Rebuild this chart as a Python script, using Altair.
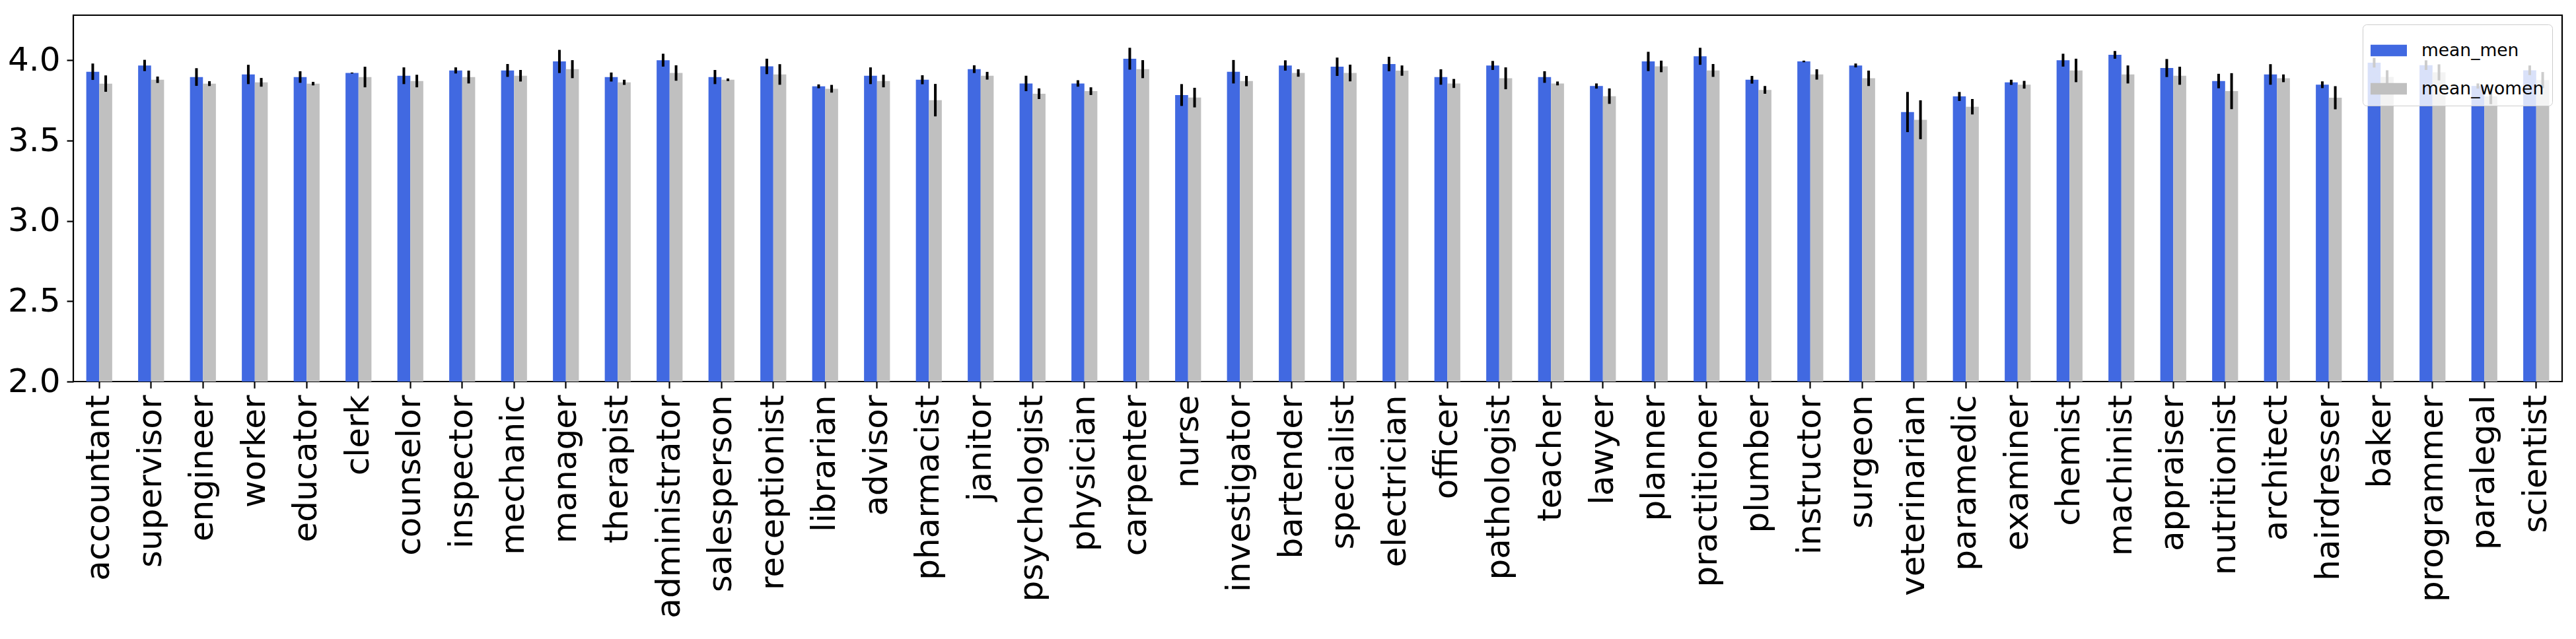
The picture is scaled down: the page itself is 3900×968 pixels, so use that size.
import altair as alt
import pandas as pd

occupations = [
    "accountant", "supervisor", "engineer", "worker", "educator", "clerk",
    "counselor", "inspector", "mechanic", "manager", "therapist", "administrator",
    "salesperson", "receptionist", "librarian", "advisor", "pharmacist", "janitor",
    "psychologist", "physician", "carpenter", "nurse", "investigator", "bartender",
    "specialist", "electrician", "officer", "pathologist", "teacher", "lawyer",
    "planner", "practitioner", "plumber", "instructor", "surgeon", "veterinarian",
    "paramedic", "examiner", "chemist", "machinist", "appraiser", "nutritionist",
    "architect", "hairdresser", "baker", "programmer", "paralegal", "scientist",
]

mean_men = [
    3.929, 3.968, 3.896, 3.912, 3.896, 3.921,
    3.904, 3.937, 3.937, 3.993, 3.896, 4.001,
    3.896, 3.962, 3.838, 3.904, 3.879, 3.945,
    3.856, 3.856, 4.010, 3.784, 3.929, 3.968,
    3.960, 3.977, 3.896, 3.968, 3.896, 3.840,
    3.993, 4.025, 3.879, 3.993, 3.968, 3.678,
    3.775, 3.863, 4.001, 4.034, 3.952, 3.871,
    3.912, 3.848, 3.985, 3.970, 3.840, 3.938,
]
err_men = [
    0.051, 0.035, 0.055, 0.060, 0.036, 0.003,
    0.052, 0.019, 0.040, 0.072, 0.028, 0.040,
    0.044, 0.048, 0.012, 0.052, 0.028, 0.024,
    0.048, 0.020, 0.068, 0.068, 0.073, 0.032,
    0.057, 0.045, 0.048, 0.028, 0.036, 0.016,
    0.060, 0.053, 0.024, 0.005, 0.012, 0.125,
    0.028, 0.016, 0.040, 0.024, 0.056, 0.045,
    0.064, 0.021, 0.030, 0.030, 0.016, 0.030,
]
mean_women = [
    3.855, 3.879, 3.855, 3.863, 3.855, 3.896,
    3.871, 3.896, 3.904, 3.945, 3.863, 3.921,
    3.879, 3.912, 3.823, 3.871, 3.752, 3.904,
    3.792, 3.808, 3.945, 3.768, 3.871, 3.921,
    3.921, 3.936, 3.856, 3.888, 3.856, 3.777,
    3.962, 3.937, 3.816, 3.912, 3.888, 3.630,
    3.711, 3.848, 3.937, 3.912, 3.904, 3.808,
    3.888, 3.767, 3.897, 3.925, 3.775, 3.877,
]
err_women = [
    0.051, 0.020, 0.015, 0.027, 0.011, 0.064,
    0.039, 0.040, 0.036, 0.056, 0.016, 0.048,
    0.008, 0.064, 0.024, 0.039, 0.101, 0.024,
    0.033, 0.024, 0.056, 0.061, 0.032, 0.023,
    0.052, 0.032, 0.028, 0.068, 0.012, 0.048,
    0.036, 0.040, 0.024, 0.032, 0.048, 0.121,
    0.048, 0.024, 0.073, 0.056, 0.056, 0.112,
    0.024, 0.072, 0.041, 0.050, 0.048, 0.050,
]

series_names = ["mean_men", "mean_women"]
series_colors = ["#4169E1", "#C0C0C0"]
y_ticks = [2.0, 2.5, 3.0, 3.5, 4.0]

rows = []
for i, occ in enumerate(occupations):
    rows.append({"occupation": occ, "series": "mean_men",
                 "value": mean_men[i], "err": err_men[i]})
    rows.append({"occupation": occ, "series": "mean_women",
                 "value": mean_women[i], "err": err_women[i]})
df = pd.DataFrame(rows)
df["lo"] = df["value"] - df["err"]
df["hi"] = df["value"] + df["err"]

FONT = "DejaVu Sans"

x_enc = alt.X(
    "occupation:N",
    sort=occupations,
    scale=alt.Scale(paddingInner=0.5, paddingOuter=0.25),
    axis=alt.Axis(
        title=None, labelAngle=270, labelFontSize=50, labelFont=FONT,
        labelColor="black", tickSize=10, tickWidth=2.2, tickColor="black",
        labelPadding=10, domain=False, labelOverlap=False, labelLimit=1000,
    ),
)
xoff_enc = alt.XOffset(
    "series:N", sort=series_names,
    scale=alt.Scale(paddingInner=0, paddingOuter=0),
)
y_scale = alt.Scale(domain=[2.0, 4.281], nice=False, zero=False, clamp=True)

bars = alt.Chart(df).mark_bar().encode(
    x=x_enc,
    xOffset=xoff_enc,
    y=alt.Y(
        "value:Q", scale=y_scale,
        axis=alt.Axis(
            title=None, values=y_ticks, format=".1f", labelFontSize=50,
            labelFont=FONT, labelColor="black", tickSize=10, tickWidth=2.2,
            tickColor="black", labelPadding=10, grid=False, domain=False,
        ),
    ),
    y2=alt.datum(2.0),
    color=alt.Color(
        "series:N",
        scale=alt.Scale(domain=series_names, range=series_colors),
        legend=alt.Legend(
            title=None, orient="none", legendX=3466, legendY=14,
            labelFontSize=26.5, labelFont=FONT, labelColor="black",
            labelLimit=600,
            symbolType="M-1,-0.32H1V0.32H-1Z", symbolSize=3025,
            symbolStrokeWidth=0, symbolOpacity=1, labelOffset=22,
            fillColor="rgba(255,255,255,0.8)", strokeColor="#cccccc",
            cornerRadius=6, padding=12, rowPadding=17,
        ),
    ),
)

errs = alt.Chart(df).mark_rule(color="black", strokeWidth=4).encode(
    x=x_enc,
    xOffset=xoff_enc,
    y=alt.Y("lo:Q", scale=y_scale),
    y2="hi:Q",
)

chart = (
    alt.layer(bars, errs)
    .properties(
        width=3768, height=555,
        padding={"left": 3, "top": 15, "right": 5, "bottom": 5},
        background="white",
    )
    .configure_view(stroke="black", strokeWidth=2.2)
)

chart.save("out.html", embed_options={"renderer": "svg", "actions": False})
